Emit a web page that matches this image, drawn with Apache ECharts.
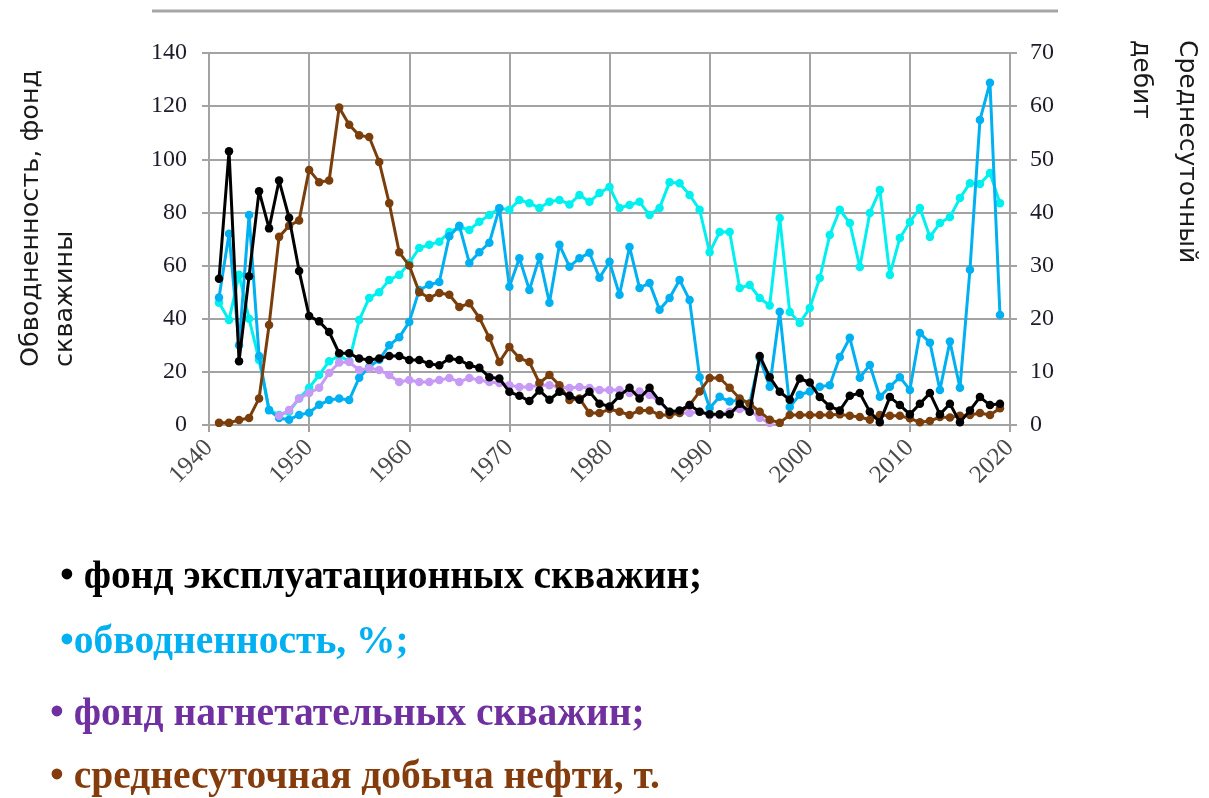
<!DOCTYPE html>
<html>
<head>
<meta charset="utf-8">
<script src="https://cdn.jsdelivr.net/npm/echarts@6/dist/echarts.min.js"></script>
<style>
  html, body { margin: 0; padding: 0; background: #ffffff; }
  #chart { width: 1209px; height: 798px; }
</style>
</head>
<body>
<div id="chart"></div>
<script>
// Years of observation
var years = [];
for (var y = 1941; y <= 2019; y++) years.push(y);

// Фонд эксплуатационных скважин (left axis)
var wellsProd = [55, 103, 24, 56, 88, 74, 92, 78, 58, 41,
  39, 35, 27, 27, 25, 24.5, 25, 26, 26, 24.5,
  24.5, 23, 22.5, 25, 24.5, 22.5, 21.5, 18, 17.5, 12.5,
  11, 9, 13, 9.5, 12.5, 11, 9.5, 12.5, 8, 7,
  11, 14, 10, 14, 9, 5, 5.5, 7.5, 5, 4,
  4, 4, 8, 5, 26, 18, 12.5, 9.5, 17.5, 16,
  10.5, 7, 5.5, 11, 12, 5, 1, 10.5, 7.5, 4,
  8, 12, 4, 8, 1, 5.5, 10.5, 7.5, 8];

// Обводненность, % (left axis)
var waterCut = [46, 39.5, 56.5, 40, 24.5, 5.6, 3.8, 5, 10, 14,
  18.8, 24, 26, 24, 39.5, 47.8, 50, 54.6, 56.5, 61,
  66.6, 67.8, 69, 72.6, 74.5, 73.4, 76.5, 79, 81.6, 81,
  84.7, 83.5, 81.7, 84, 84.7, 83, 86.6, 84, 87.3, 89.6,
  81.7, 82.8, 84, 79, 81.7, 91.4, 91, 86.6, 81, 65,
  72.6, 72.6, 51.6, 52.7, 47.8, 45, 77.9, 42.5, 38.4, 44,
  55.3, 71.5, 81, 76, 59.5, 79.8, 88.4, 56.5, 70.4, 76.4,
  81.7, 70.8, 76, 78.3, 85.4, 91, 90.7, 94.8, 83.5];

// Среднесуточный дебит (right axis)
var dailyRate = [24, 36, 15, 39.5, 13, 2.8, 1.3, 1, 1.9, 2.3,
  3.8, 4.7, 5, 4.7, 8.9, 10.9, 12.3, 15, 16.5, 19.4,
  25.4, 26.4, 26.9, 35.5, 37.5, 30.5, 32.5, 34.3, 40.8, 26,
  31.4, 25.4, 31.6, 23, 33.9, 29.8, 31.4, 32.4, 27.7, 30.7,
  24.5, 33.5, 25.8, 26.7, 21.7, 23.9, 27.3, 23.5, 9, 3.2,
  5.3, 4.4, 4.7, 4.1, 12.6, 7.2, 21.3, 3.4, 5.7, 6.3,
  7.2, 7.5, 12.8, 16.4, 8.9, 11.3, 5.3, 7.2, 9, 6.6,
  17.3, 15.5, 6.6, 15.7, 7, 29.2, 57.4, 64.4, 20.7];

// Фонд нагнетательных скважин (left axis), from 1947 to 1996
var wellsInj = [null, null, null, null, null, null, 3.5, 5.6, 10, 12,
  14, 19.6, 23.5, 23.7, 20.7, 21.4, 20.7, 18.8, 16.2, 16.9,
  16.2, 16.2, 16.9, 17.7, 16.2, 17.7, 16.9, 16.2, 15.8, 15,
  14.3, 14.3, 15, 15, 14.3, 13.9, 14.3, 13.9, 13.2, 13.2,
  13.2, 12, 12.6, 11.3, 8.8, 5, 4.5, 4.5, 5, 3.8,
  3.8, 5, 6, 5.5, 2.6, 0.8];

// Среднесуточная добыча нефти, т (left axis)
var oilRate = [0.8, 0.8, 1.9, 2.6, 10, 37.6, 70.8, 75, 77, 96,
  91.4, 92, 119.5, 113, 109, 108.4, 99, 83.5, 65, 60,
  50, 47.8, 49.7, 49, 44.4, 45.8, 40.3, 32.8, 23.7, 29.4,
  25.2, 23.7, 15.8, 18.8, 15, 9.4, 10, 4.5, 4.5, 6,
  5, 3.8, 5.5, 5.5, 3.8, 3.8, 4.5, 7.5, 12.6, 17.7,
  17.7, 14, 10, 8, 5, 2, 0.8, 3.8, 3.8, 3.8,
  3.8, 3.8, 4, 3.5, 3, 2, 3.8, 3.5, 3.5, 2.5,
  1, 1.5, 3, 2.8, 3.5, 3.8, 4.5, 3.8, 6.3];

var leftTicks = { min: 0, max: 140, interval: 20 };
var rightTicks = { min: 0, max: 70, interval: 10 };
var xTicks = { min: 1940, max: 2020, interval: 10 };

function pairs(vals) {
  return years.map(function (yr, i) {
    var v = i < vals.length ? vals[i] : null;
    return [yr, v];
  });
}

function lineSeries(name, vals, color, axis, z) {
  return {
    name: name,
    type: 'line',
    yAxisIndex: axis,
    data: pairs(vals),
    symbol: 'circle',
    symbolSize: 8.5,
    showSymbol: true,
    connectNulls: false,
    z: z,
    lineStyle: { color: color, width: 3 },
    itemStyle: { color: color },
    emphasis: { disabled: true },
    animation: false
  };
}

var gridColor = '#a3a3a3';
var numFont = { fontFamily: 'Liberation Serif', fontSize: 24, color: '#1c1c2a' };

var chart = echarts.init(document.getElementById('chart'), null, { renderer: 'canvas' });
chart.setOption({
  backgroundColor: '#ffffff',
  animation: false,
  grid: { left: 209, right: 199, top: 53, bottom: 373, containLabel: false },
  xAxis: {
    type: 'value',
    min: xTicks.min, max: xTicks.max, interval: xTicks.interval,
    axisLine: { show: true, lineStyle: { color: gridColor, width: 2 } },
    axisTick: { show: true, length: 7, lineStyle: { color: gridColor, width: 2 } },
    splitLine: { show: true, lineStyle: { color: gridColor, width: 2 } },
    axisLabel: {
      rotate: 45, margin: 19,
      fontFamily: 'Liberation Serif', fontSize: 25, color: '#4a4a4a',
      formatter: function (v) { return String(v); }
    }
  },
  yAxis: [{
    type: 'value',
    min: leftTicks.min, max: leftTicks.max, interval: leftTicks.interval,
    position: 'left',
    axisLine: { show: true, lineStyle: { color: gridColor, width: 2 } },
    axisTick: { show: true, length: 7, lineStyle: { color: gridColor, width: 2 } },
    splitLine: { show: true, lineStyle: { color: gridColor, width: 2 } },
    axisLabel: Object.assign({ margin: 22 }, numFont)
  }, {
    type: 'value',
    min: rightTicks.min, max: rightTicks.max, interval: rightTicks.interval,
    position: 'right',
    axisLine: { show: true, lineStyle: { color: gridColor, width: 2 } },
    axisTick: { show: true, length: 7, lineStyle: { color: gridColor, width: 2 } },
    splitLine: { show: false },
    axisLabel: Object.assign({ margin: 20 }, numFont)
  }],
  series: [
    lineSeries('обводненность, %', waterCut, '#00f0f0', 0, 2),
    lineSeries('среднесуточный дебит', dailyRate, '#00b0f0', 1, 3),
    lineSeries('фонд нагнетательных скважин', wellsInj, '#c79bf5', 0, 4),
    lineSeries('среднесуточная добыча нефти, т.', oilRate, '#7a3e0c', 0, 5),
    lineSeries('фонд эксплуатационных скважин', wellsProd, '#000000', 0, 6)
  ],
  graphic: [
    { type: 'line', shape: { x1: 152, y1: 11, x2: 1058, y2: 11 },
      style: { stroke: '#a6a6a6', lineWidth: 3 } },
    { type: 'text', x: 31, y: 367, rotation: Math.PI / 2,
      style: { text: 'Обводненность, фонд', font: '25.5px "DejaVu Sans"', fill: '#1a1a1a',
        textAlign: 'left', textVerticalAlign: 'middle' } },
    { type: 'text', x: 65, y: 367, rotation: Math.PI / 2,
      style: { text: 'скважины', font: '25.5px "DejaVu Sans"', fill: '#1a1a1a',
        textAlign: 'left', textVerticalAlign: 'middle' } },
    { type: 'text', x: 1186, y: 40, rotation: -Math.PI / 2,
      style: { text: 'Среднесуточный', font: '25px "DejaVu Sans"', fill: '#1a1a1a',
        textAlign: 'left', textVerticalAlign: 'middle' } },
    { type: 'text', x: 1140, y: 40, rotation: -Math.PI / 2,
      style: { text: 'дебит', font: '25px "DejaVu Sans"', fill: '#1a1a1a',
        textAlign: 'left', textVerticalAlign: 'middle' } },
    { type: 'text', x: 60, y: 578,
      style: { text: '• фонд эксплуатационных скважин;', font: 'bold 39.5px "Liberation Serif"',
        fill: '#000000', textAlign: 'left', textVerticalAlign: 'middle' } },
    { type: 'text', x: 60, y: 643,
      style: { text: '•обводненность, %;', font: 'bold 39.5px "Liberation Serif"',
        fill: '#00b0f0', textAlign: 'left', textVerticalAlign: 'middle' } },
    { type: 'text', x: 50, y: 715,
      style: { text: '• фонд нагнетательных скважин;', font: 'bold 39.5px "Liberation Serif"',
        fill: '#7030a0', textAlign: 'left', textVerticalAlign: 'middle' } },
    { type: 'text', x: 50, y: 778,
      style: { text: '• среднесуточная добыча нефти, т.', font: 'bold 39.5px "Liberation Serif"',
        fill: '#843c0c', textAlign: 'left', textVerticalAlign: 'middle' } }
  ]
});
</script>
</body>
</html>
